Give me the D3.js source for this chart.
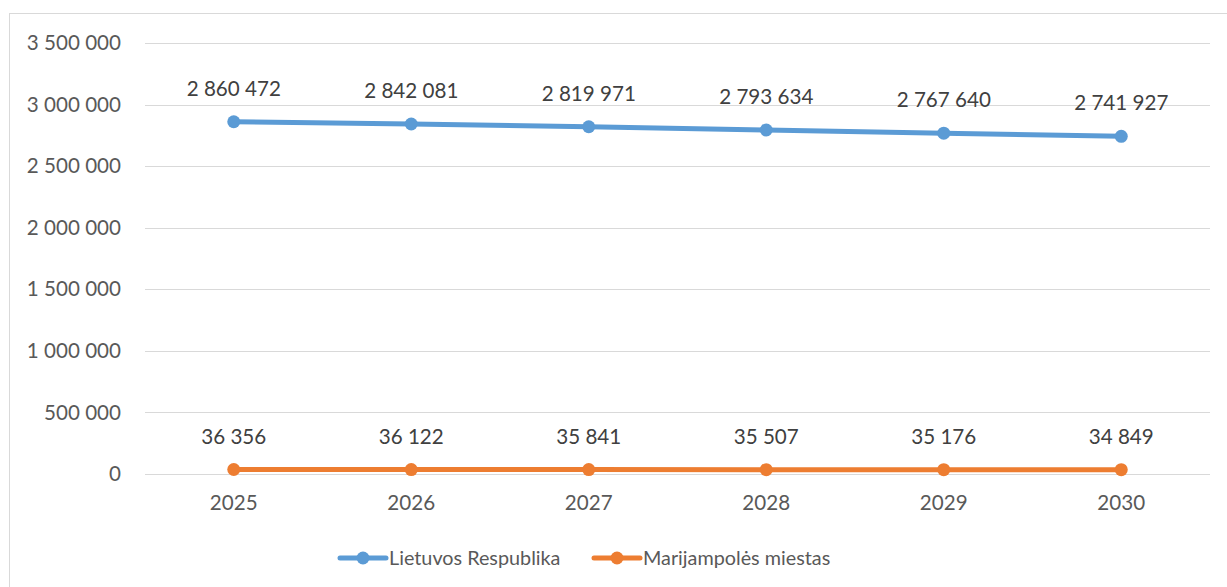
<!DOCTYPE html>
<html>
<head>
<meta charset="utf-8">
<script src="https://cdn.jsdelivr.net/npm/d3@7"></script>
<style>
  html, body { margin: 0; padding: 0; background: #fff; }
  #chart { width: 1227px; height: 587px; }
  text { font-family: Lato, "Open Sans", sans-serif; }
</style>
</head>
<body>
<div id="chart"></div>
<script>
// Data
const years = ['2025', '2026', '2027', '2028', '2029', '2030'];
const lietuva = [2860472, 2842081, 2819971, 2793634, 2767640, 2741927];
const marijampole = [36356, 36122, 35841, 35507, 35176, 34849];
const seriesNames = ['Lietuvos Respublika', 'Marijampolės miestas'];
const yTicks = [0, 500000, 1000000, 1500000, 2000000, 2500000, 3000000, 3500000];

const W = 1227, H = 587;
const margin = { top: 43, right: 17, bottom: 113, left: 145 };
const width = W - margin.left - margin.right;
const height = H - margin.top - margin.bottom;
const colors = ['#5b9bd5', '#ed7d31'];

const fmt = v => d3.format(',')(v).replace(/,/g, ' ');

const svg = d3.select('#chart').append('svg')
    .attr('width', W)
    .attr('height', H);

// Outer chart border
svg.append('rect')
    .attr('x', 9.5).attr('y', 13.5)
    .attr('width', W + 10).attr('height', H + 10)
    .attr('fill', 'none')
    .attr('stroke', '#d9d9d9')
    .attr('stroke-width', 1);

const g = svg.append('g')
    .attr('transform', `translate(${margin.left},${margin.top})`);

const x = d3.scaleBand().domain(years).range([0, width]);
const y = d3.scaleLinear().domain([0, 3500000]).range([height, 0]);

// Grid lines
g.append('g')
    .selectAll('line')
    .data(yTicks)
    .enter().append('line')
    .attr('x1', 0).attr('x2', width)
    .attr('y1', d => Math.round(y(d)) + 0.5)
    .attr('y2', d => Math.round(y(d)) + 0.5)
    .attr('stroke', '#d9d9d9')
    .attr('stroke-width', 1);

// Y axis labels
const yAxis = g.append('g')
    .call(d3.axisLeft(y).tickValues(yTicks).tickSize(0).tickPadding(24).tickFormat(fmt));
yAxis.select('.domain').remove();
yAxis.selectAll('text')
    .style('font-family', 'Lato, "Open Sans", sans-serif')
    .style('font-size', '20.6px')
    .style('fill', '#595959');

// X axis labels
const xAxis = g.append('g')
    .attr('transform', `translate(0,${height})`)
    .call(d3.axisBottom(x).tickSize(0).tickPadding(21));
xAxis.select('.domain').remove();
xAxis.selectAll('text')
    .style('font-family', 'Lato, "Open Sans", sans-serif')
    .style('font-size', '20.6px')
    .style('fill', '#595959');

const cx = d => x(d) + x.bandwidth() / 2;

const lineData = [lietuva, marijampole].map((vals, i) => ({
    name: seriesNames[i],
    color: colors[i],
    values: years.map((yr, j) => ({ label: yr, value: vals[j] }))
}));

const line = d3.line()
    .x(d => cx(d.label))
    .y(d => y(d.value));

lineData.forEach(s => {
    g.append('path')
        .datum(s.values)
        .attr('fill', 'none')
        .attr('stroke', s.color)
        .attr('stroke-width', 5)
        .attr('stroke-linecap', 'round')
        .attr('d', line);

    g.append('g')
        .selectAll('circle')
        .data(s.values)
        .enter().append('circle')
        .attr('cx', d => cx(d.label))
        .attr('cy', d => y(d.value))
        .attr('r', 6.5)
        .attr('fill', s.color);

    g.append('g')
        .selectAll('text')
        .data(s.values)
        .enter().append('text')
        .attr('x', d => cx(d.label))
        .attr('y', d => y(d.value) - 26)
        .attr('text-anchor', 'middle')
        .style('font-size', '20.6px')
        .style('fill', '#404040')
        .text(d => fmt(d.value));
});

// Legend
const legendX = [340, 594];
lineData.forEach((s, i) => {
    const item = svg.append('g').attr('transform', `translate(${legendX[i]}, 558)`);
    item.append('line')
        .attr('x1', 0).attr('x2', 46).attr('y1', 0).attr('y2', 0)
        .attr('stroke', s.color).attr('stroke-width', 5)
        .attr('stroke-linecap', 'round');
    item.append('circle').attr('cx', 23).attr('cy', 0).attr('r', 6.5).attr('fill', s.color);
    item.append('text')
        .attr('x', 49).attr('y', 0)
        .attr('dy', '0.35em')
        .style('font-size', '19.8px')
        .style('fill', '#595959')
        .text(s.name);
});
</script>
</body>
</html>
